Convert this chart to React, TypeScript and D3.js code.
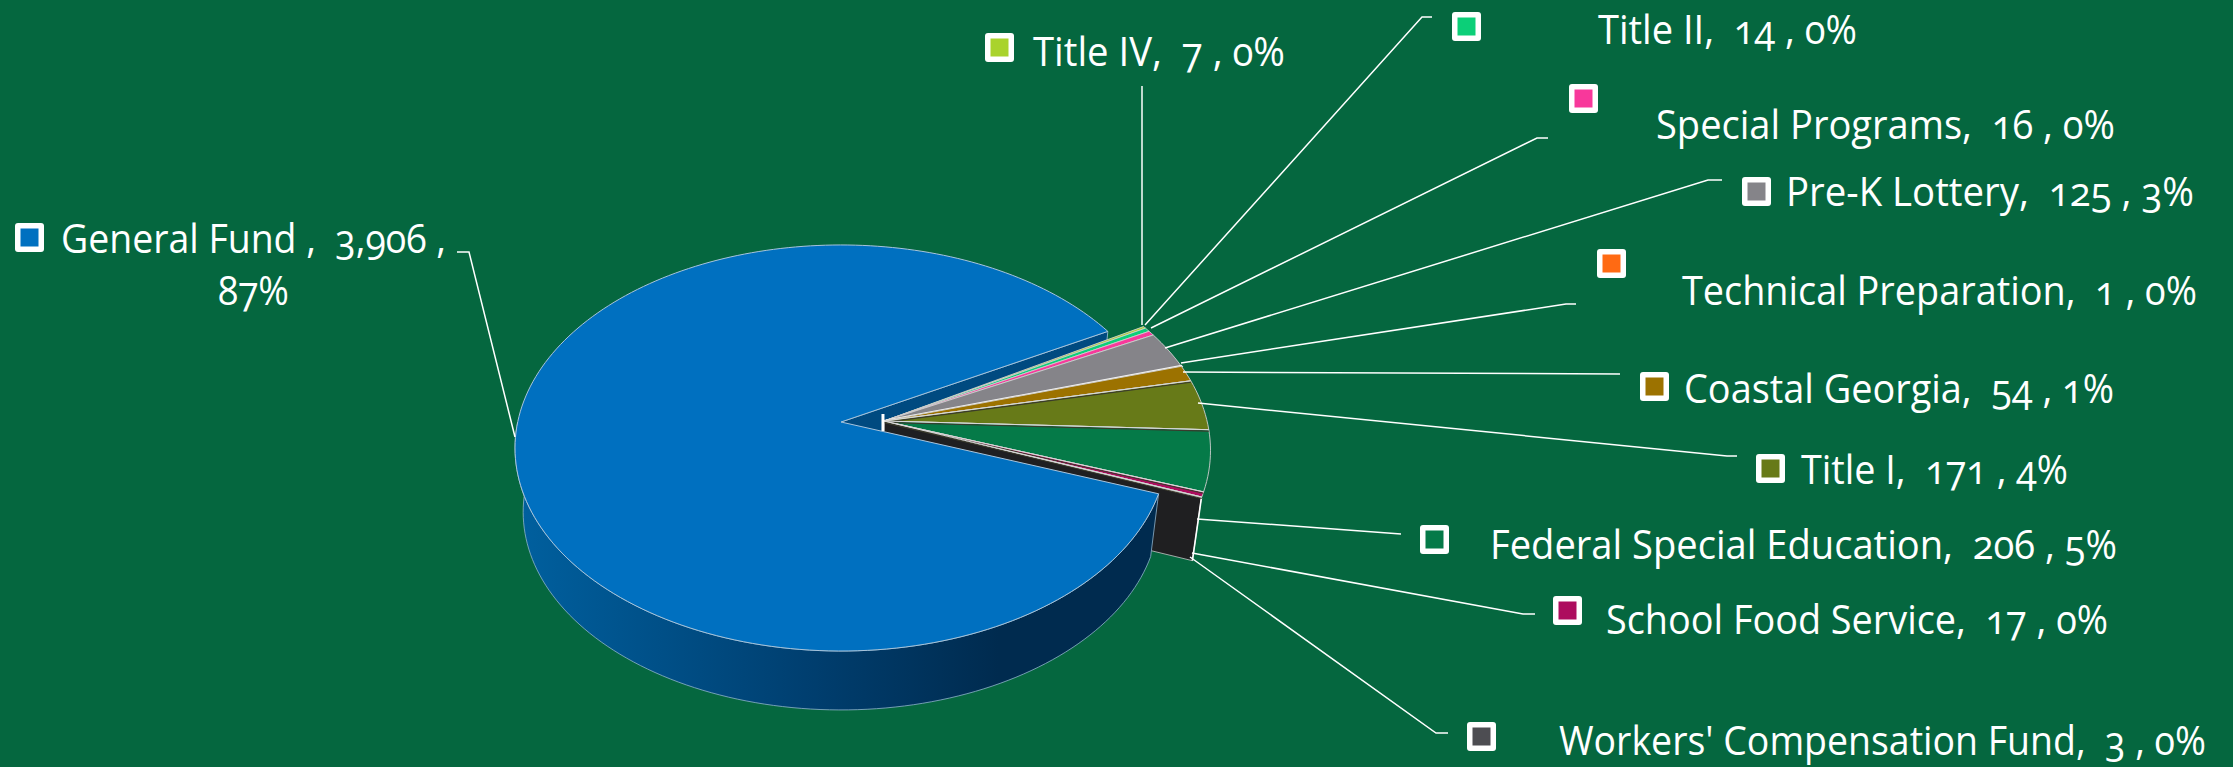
import React from 'react';
import * as d3 from 'd3';

const categories = ['General Fund', 'Title IV', 'Title II', 'Special Programs', 'Pre-K Lottery', 'Technical Preparation', 'Coastal Georgia', 'Title I', 'Federal Special Education', 'School Food Service', "Workers' Compensation Fund"];
const values = [3906, 7, 14, 16, 125, 1, 54, 171, 206, 17, 3];
const valueLabels = ['3,906', '7', '14', '16', '125', '1', '54', '171', '206', '17', '3'];
const percents = ['87%', '0%', '0%', '0%', '3%', '0%', '1%', '4%', '5%', '0%', '0%'];
const colors = ['#0070c0', '#a9d32c', '#0ccf78', '#f8389b', '#858489', '#ff6a13', '#9c7200', '#677a18', '#057a48', '#ad0c5e', '#4d4d52'];
// slice boundaries in the exploded group that show a dark seam
const seamSlices = [6, 7, 8, 9];

// layout of each label: text x, text width, baseline, marker x, marker y, leader polyline
const layout: { x: number; w: number; y: number; mx: number; my: number; leader: [number, number][] }[] = [
  { x: 61, w: 385, y: 253, mx: 15, my: 223, leader: [[457, 252], [469, 252], [515, 437]] },
  { x: 1033, w: 252, y: 66, mx: 985, my: 33, leader: [[1142, 86], [1142, 325]] },
  { x: 1598, w: 259, y: 44, mx: 1452, my: 12, leader: [[1432, 17], [1422, 17], [1145, 325]] },
  { x: 1656, w: 459, y: 139, mx: 1569, my: 84, leader: [[1548, 138], [1537, 138], [1151, 328]] },
  { x: 1786, w: 408, y: 206, mx: 1742, my: 177, leader: [[1722, 180], [1708, 180], [1165, 348]] },
  { x: 1682, w: 515, y: 305, mx: 1597, my: 249, leader: [[1576, 304], [1566, 304], [1181, 363]] },
  { x: 1684, w: 430, y: 403, mx: 1640, my: 372, leader: [[1620, 374], [1183, 372]] },
  { x: 1801, w: 267, y: 484, mx: 1756, my: 454, leader: [[1737, 456], [1727, 456], [1198, 403]] },
  { x: 1490, w: 627, y: 559, mx: 1420, my: 525, leader: [[1401, 534], [1197, 519]] },
  { x: 1606, w: 502, y: 634, mx: 1553, my: 596, leader: [[1535, 614], [1523, 614], [1192, 553]] },
  { x: 1559, w: 647, y: 755, mx: 1467, my: 722, leader: [[1448, 733], [1436, 733], [1190, 557]] },
];

const W = 2233, H = 767;
const cx = 841, cy = 422, R = 323.3, S = 199.7, P = 0.128;
const toRad = Math.PI / 180;
const startA = 110.1 * toRad;
const explode: [number, number] = [0.133, 0.005];
const fanStretch = 1.06;
const NB = '\u00a0';

type Pt = [number, number];
const project = (u: number, v: number): Pt => {
  const w = 1 + P * v;
  return [cx + (R * u) / w, cy - (S * v) / w];
};
const rim = (a: number, off: Pt = [0, 0]): Pt => project(off[0] + Math.sin(a), off[1] + Math.cos(a));
const lower = (p: Pt): Pt => [cx + (p[0] - cx) * 0.975, 448 + (p[1] - 448) * 0.975 + 64];
const line = d3.line<Pt>();

const arcPts = (a0: number, a1: number, off: Pt = [0, 0]): Pt[] =>
  d3.range(0, 1.0001, 1 / Math.max(2, Math.ceil(Math.abs(a1 - a0) / (1.5 * toRad)))).map((t) => rim(a0 + (a1 - a0) * t, off));

const wedgePath = (a0: number, a1: number, off: Pt = [0, 0]) =>
  line([project(off[0], off[1]), ...arcPts(a0, a1, off)])! + 'Z';

export default function App() {
  const arcs = d3.pie<number>().sort(null).startAngle(startA).endAngle(startA + 2 * Math.PI)(values);
  const blue = arcs[0];
  const gapMid = blue.endAngle + (2 * Math.PI + startA - blue.endAngle) / 2;
  const fan = (a: number) => gapMid + (a - gapMid) * fanStretch;

  const wallTop = arcPts(blue.startAngle, 270 * toRad);
  const wallPath = line([...wallTop, ...wallTop.slice().reverse().map(lower)])! + 'Z';

  const centre = project(0, 0);
  const bEnd = rim(blue.endAngle);
  const cutPath = line([centre, bEnd, lower(bEnd), lower(centre)])! + 'Z';

  const gCentre = project(explode[0], explode[1]);
  const gEnd = rim(fan(arcs[arcs.length - 1].endAngle), explode);
  const gLow = lower(gEnd);
  const facePath = line([gCentre, gEnd, gLow, lower(gCentre)])! + 'Z';

  return (
    <svg width={W} height={H} viewBox={`0 0 ${W} ${H}`} style={{ position: 'absolute', left: 0, top: 0, display: 'block', background: '#05673f' }}>
      <defs>
        <linearGradient id="wall" gradientUnits="userSpaceOnUse" x1={515} x2={1160} y1={0} y2={0}>
          <stop offset="0" stopColor="#00609f" />
          <stop offset="0.45" stopColor="#003f70" />
          <stop offset="0.75" stopColor="#002b4f" />
          <stop offset="1" stopColor="#002b4f" />
        </linearGradient>
      </defs>
      <rect width={W} height={H} fill="#05673f" />
      <path d={cutPath} fill="#004a80" stroke="#a8c4dc" strokeWidth={0.8} />
      <path d={facePath} fill="#1f1f21" stroke="#c8c8c8" strokeWidth={0.8} />
      <path d={line([gEnd, gLow])!} stroke="#fff" strokeWidth={1.6} fill="none" />
      <path d={wallPath} fill="url(#wall)" stroke="#8fb3cc" strokeWidth={0.8} />
      <path d={wedgePath(blue.startAngle, blue.endAngle)} fill={colors[0]} stroke="#a8c4dc" strokeWidth={1} />
      {arcs.slice(1).map((a, i) => (
        <path key={i} d={wedgePath(fan(a.startAngle), fan(a.endAngle), explode)} fill={colors[i + 1]} stroke={i + 1 === 5 ? '#f2f2f2' : '#cfcfcf'} strokeWidth={i + 1 === 5 ? 2.2 : 0.9} />
      ))}
      {seamSlices.map((s) => {
        const e = rim(fan(arcs[s].endAngle), explode);
        return (
          <g key={s}>
            <path d={line([[gCentre[0], gCentre[1] + 1.4], [e[0], e[1] + 1.4]])!} stroke="#3a3a2c" strokeWidth={1.1} fill="none" />
            <path d={line([gCentre, e])!} stroke="#d8d8d8" strokeWidth={1} fill="none" />
          </g>
        );
      })}
      <path d={line([[gCentre[0] - 1, gCentre[1] - 7], [gCentre[0] - 1, gCentre[1] + 10]])!} stroke="#fff" strokeWidth={3} fill="none" />
      {layout.map((l, i) => (
        <path key={i} d={line(l.leader)!} fill="none" stroke="#fff" strokeWidth={1.5} />
      ))}
      {layout.map((l, i) => (
        <g key={i}>
          <rect x={l.mx} y={l.my} width={29} height={29} rx={3} fill="#fff" />
          <rect x={l.mx + 5.5} y={l.my + 5.5} width={18} height={18} fill={colors[i]} />
        </g>
      ))}
      <g fill="#fff" fontFamily="'Open Sans', Lato, sans-serif" fontSize={40} style={{ fontVariantNumeric: 'oldstyle-nums', fontFeatureSettings: '"onum"' }}>
        {layout.map((l, i) => (
          <text key={i} x={l.x} y={l.y} textLength={l.w} lengthAdjust="spacingAndGlyphs">
            {i === 0 ? `${categories[i]} ,${NB}${NB}${valueLabels[i]} ,` : `${categories[i]},${NB}${NB}${valueLabels[i]} , ${percents[i]}`}
          </text>
        ))}
        <text x={218} y={305} textLength={71} lengthAdjust="spacingAndGlyphs">{percents[0]}</text>
      </g>
    </svg>
  );
}
